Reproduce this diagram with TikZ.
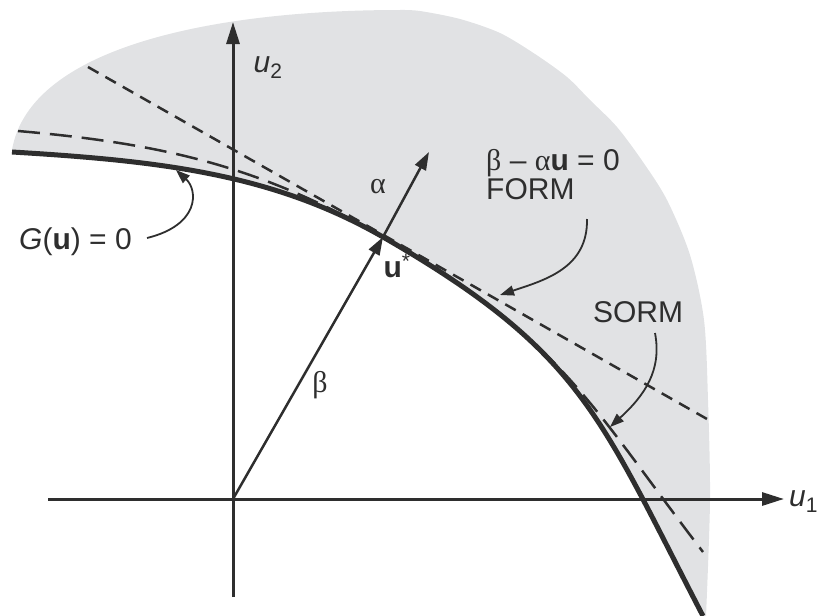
\documentclass[tikz,border=0pt]{standalone}
\usepackage{fontspec}
\setmainfont{Liberation Sans}
\newfontfamily\grk{Liberation Serif}
\usepackage{tikz}
\usetikzlibrary{arrows.meta}
\definecolor{region}{HTML}{E1E2E4}
\definecolor{ink}{HTML}{2E2E2E}
\tikzset{
  axis/.style={draw=ink, line width=3pt, -{Triangle[length=22pt,width=13pt]}},
  limit/.style={draw=ink, line width=5pt},                              % G(u)=0
  form/.style={draw=ink, line width=2.5pt, dash pattern=on 12pt off 8pt}, % tangent plane
  sorm/.style={draw=ink, line width=2.5pt, dash pattern=on 22pt off 10pt},% parabola
  vec/.style={draw=ink, line width=2.5pt, -{Triangle[length=18pt,width=12pt]}},
  note/.style={draw=ink, line width=1.8pt, -{Triangle[length=14pt,width=10pt]}},
  lbl/.style={font=\fontsize{30}{29}\selectfont, text=ink, inner sep=1pt},
}

\begin{document}
\begin{tikzpicture}[x=1pt, y=-1pt]
  \useasboundingbox (0,0) rectangle (817,616);
  % ---------------- axes and design point ----------------
  \coordinate (O)     at (233,499);
  \coordinate (ustar) at (383,237);
  \coordinate (xlo)   at (48,499);
  \coordinate (xhi)   at (784,499);
  \coordinate (ylo)   at (233,597);
  \coordinate (yhi)   at (233,22);
  \coordinate (atip)  at (429,152);
  \coordinate (gl)    at (12,152);
  \coordinate (gr)    at (703,616);
  \coordinate (sl)    at (18,131);
  \coordinate (sr)    at (703,552);
  % Failure domain, bounded below by the limit state surface
  \fill[region] (gl) .. controls (162,161) and (273,174) .. (ustar)
    .. controls (583,352) and (599,416) .. (gr)
    -- plot[smooth, tension=0.5] coordinates {(706,616) (710,500) (708,400) (704,320)
      (690,255) (667,200) (643,162) (617,127) (590,100) (567,77) (535,54) (500,33)
      (460,19) (420,11) (400,10)}
    .. controls (220,10) and (30,45) .. (12,150) -- cycle;
  \draw[axis] (xlo) -- (xhi);
  \draw[axis] (ylo) -- (yhi);
  % ---------------- FORM / SORM approximations ----------------
  \coordinate (fa) at (88,67);
  \coordinate (fb) at (707,419);
  \draw[form] (fa) -- (fb);
  \draw[sorm] (sl) .. controls (168,144) and (263,168) .. (ustar)
    .. controls (563,340) and (588,402) .. (sr);
  \draw[limit] (gl) .. controls (162,161) and (273,174) .. (ustar)
    .. controls (583,352) and (599,416) .. (gr);
  \draw[vec] (O) -- (ustar);
  \draw[vec] (ustar) -- (atip);
  % ---------------- labels ----------------
  \node[lbl] (u2lbl) at (268,68) {\textit{u}\textsubscript{2}};
  \node[lbl, anchor=west, inner sep=0pt] (u1lbl) at (789,502) {\textit{u}\textsubscript{1}};
  \node[lbl] (alpha) at (378,187) {\grk α};
  \node[lbl] (beta)  at (320,385) {\grk β};
  \node[lbl] (ulbl)  at (397,266) {\textbf{u}\textsuperscript{*}};
  \node[lbl, anchor=west] (glbl) at (18,242) {\textit{G}(\textbf{u}) = 0};
  \node[lbl, anchor=north west, align=left] (formlbl) at (485,148)
    {{\grk β} – {\grk α}\textbf{u} = 0\\FORM};
  \node[lbl] (sormlbl) at (638,312) {SORM};
  % ---------------- pointers ----------------
  \coordinate (gfrom) at (147,238);
  \coordinate (gto)   at (176,170);
  \coordinate (ffrom) at (587,219);
  \coordinate (fto)   at (500,295);
  \coordinate (sfrom) at (655,333);
  \coordinate (sto)   at (610,427);
  \draw[note] (gfrom) .. controls (200,225) and (198,190) .. (gto);
  \draw[note] (ffrom) .. controls (588,268) and (545,280) .. (fto);
  \draw[note] (sfrom) .. controls (662,370) and (645,395) .. (sto);
\end{tikzpicture}
\end{document}
